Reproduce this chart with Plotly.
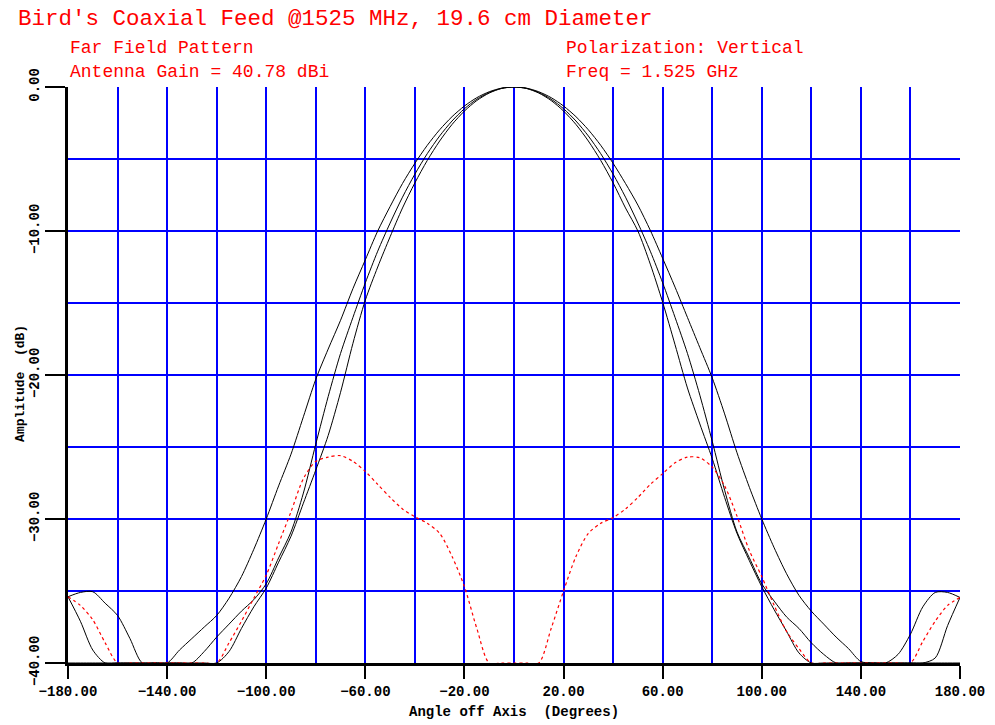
import plotly.graph_objects as go

# Sample angles (degrees off axis)
angles = [-180, -175, -170, -165, -160, -155, -150, -145, -140, -135, -130, -125,
          -120, -115, -110, -105, -100, -95, -90, -85, -80, -75, -70, -65,
          -60, -55, -50, -45, -40, -35, -30, -25, -20, -15, -10, -5,
          0, 5, 10, 15, 20, 25, 30, 35, 40, 45, 50, 55,
          60, 65, 70, 75, 80, 85, 90, 95, 100, 105, 110, 115,
          120, 125, 130, 135, 140, 145, 150, 155, 160, 165, 170, 175, 180]

# Co-polar pattern, widest beam (dB)
copol_a = [-35.4, -35.1, -35.05, -35.85, -36.7, -38.3, -40, -40, -40, -39.1, -38.3, -37.5,
           -36.7, -35.5, -34.0, -32.1, -30.0, -27.7, -25.5, -22.9, -20.3, -18.2, -16.2, -14.0,
           -12.0, -10.0, -8.3, -6.7, -5.3, -4.05, -2.97, -2.06, -1.32, -0.74, -0.33, -0.08,
           0.0, -0.08, -0.33, -0.74, -1.32, -2.06, -2.97, -4.05, -5.3, -6.7, -8.2, -9.95,
           -11.9, -13.9, -16.0, -18.1, -20.2, -22.7, -25.4, -27.8, -30.0, -32.0, -33.8, -35.3,
           -36.4, -37.3, -38.2, -39.0, -39.9, -40, -40, -39.4, -38.0, -36.1, -35.1, -35.1, -35.45]

# Co-polar pattern, middle beam (dB)
copol_b = [-35.4, -37.1, -39.1, -40, -40, -40, -40, -40, -40, -40, -40, -39.2,
           -38.2, -37.3, -36.4, -35.6, -34.5, -32.7, -30.9, -28.2, -24.8, -21.5, -18.5, -16.0,
           -13.6, -11.4, -9.45, -7.65, -6.05, -4.63, -3.40, -2.36, -1.51, -0.85, -0.38, -0.09,
           0.0, -0.09, -0.38, -0.85, -1.51, -2.36, -3.40, -4.63, -6.05, -7.65, -9.45, -11.4,
           -13.6, -16.0, -18.5, -21.4, -24.6, -28.0, -30.9, -32.7, -34.5, -35.7, -36.8, -37.6,
           -38.6, -39.4, -40, -40, -40, -40, -40, -40, -40, -40, -39.65, -37.4, -35.45]

# Co-polar pattern, narrowest beam (dB)
copol_c = [-40, -40, -40, -40, -40, -40, -40, -40, -40, -40, -40, -40,
           -40, -39.2, -37.6, -36.1, -34.8, -33.0, -31.2, -28.9, -26.6, -24.2, -21.2, -17.8,
           -14.8, -12.5, -10.4, -8.4, -6.66, -5.1, -3.75, -2.6, -1.67, -0.94, -0.42, -0.1,
           0.0, -0.1, -0.42, -0.94, -1.67, -2.6, -3.75, -5.1, -6.66, -8.4, -10.0, -12.3,
           -14.95, -17.9, -20.9, -23.4, -25.8, -28.5, -31.0, -32.9, -34.7, -36.3, -37.8, -39.3,
           -40, -40, -40, -40, -40, -40, -40, -40, -40, -40, -40, -40, -40]

# Cross-polar pattern (dB)
xpol = [-35.4, -36.0, -37.0, -38.6, -40, -40, -40, -40, -40, -40, -40, -40,
        -40, -38.6, -37.1, -35.5, -33.9, -31.7, -29.5, -27.2, -26.0, -25.7, -25.6, -26.0,
        -26.7, -27.6, -28.5, -29.3, -29.85, -30.3, -31.0, -32.6, -34.7, -37.6, -40, -40,
        -40, -40, -40, -37.6, -35.0, -32.6, -31.0, -30.3, -29.9, -29.3, -28.5, -27.6,
        -26.85, -26.1, -25.7, -25.75, -26.4, -27.7, -29.8, -32.2, -34.0, -36.0, -37.8, -39.0,
        -40, -40, -40, -40, -40, -40, -40, -40, -40, -38.5, -37.1, -36.0, -35.45]

title_text = "Bird's Coaxial Feed @1525 MHz, 19.6 cm Diameter"
info_left = ["Far Field Pattern", "Antenna Gain = 40.78 dBi"]
info_right = ["Polarization: Vertical", "Freq = 1.525 GHz"]
x_title = "Angle off Axis  (Degrees)"
y_title = "Amplitude  (dB)"

RED = "#FF0000"
BLUE = "#0000FF"
MONO = "Liberation Mono, Courier New, monospace"

fig = go.Figure()
for series in (copol_a, copol_b, copol_c):
    fig.add_trace(go.Scatter(x=angles, y=series, mode="lines",
                             line=dict(color="#000000", width=1, shape="spline", smoothing=0.8),
                             hoverinfo="skip"))
fig.add_trace(go.Scatter(x=angles, y=xpol, mode="lines",
                         line=dict(color=RED, width=1.2, dash="dot", shape="spline", smoothing=0.8),
                         hoverinfo="skip"))

annos = []
for i, t in enumerate(info_left):
    annos.append(dict(text=t, x=0.0, y=1.0677 - i * 0.0417, xref="paper", yref="paper",
                      xanchor="left", yanchor="middle", showarrow=False,
                      font=dict(family=MONO, size=18, color=RED)))
for i, t in enumerate(info_right):
    annos.append(dict(text=t, x=0.556, y=1.0677 - i * 0.0417, xref="paper", yref="paper",
                      xanchor="left", yanchor="middle", showarrow=False,
                      font=dict(family=MONO, size=18, color=RED)))
annos.append(dict(text=x_title, x=0.5, y=-0.085, xref="paper", yref="paper",
                  xanchor="center", yanchor="middle", showarrow=False,
                  font=dict(family=MONO, size=14, color="black", weight="bold")))
annos.append(dict(text=y_title, x=-0.054, y=0.486, xref="paper", yref="paper", textangle=-90,
                  xanchor="center", yanchor="middle", showarrow=False,
                  font=dict(family=MONO, size=13, color="black", weight="bold")))

fig.update_layout(
    width=995, height=725, autosize=False,
    margin=dict(l=68, r=35, t=87, b=62, pad=0),
    paper_bgcolor="white", plot_bgcolor="white",
    showlegend=False,
    title=dict(text=title_text, x=18 / 995, y=1 - 17 / 725, xref="container", yref="container",
               xanchor="left", yanchor="middle",
               font=dict(family=MONO, size=22.5, color=RED)),
    annotations=annos,
    xaxis=dict(range=[-180, 180], tick0=-180, dtick=40, tickformat=".2f", automargin=False,
               ticks="outside", ticklen=13, tickwidth=2, tickcolor="black",
               showline=True, linecolor="black", linewidth=3,
               showgrid=True, gridcolor=BLUE, gridwidth=2, zeroline=False,
               minor=dict(tick0=-180, dtick=20, showgrid=True, gridcolor=BLUE, gridwidth=2, ticks=""),
               tickfont=dict(family=MONO, size=14, color="black", weight="bold"),
               layer="below traces"),
    yaxis=dict(range=[-40, 0], dtick=10, tick0=0, tickformat=".2f", tickangle=-90, automargin=False,
               ticks="outside", ticklen=20, tickwidth=2, tickcolor="black",
               showline=True, linecolor="black", linewidth=3,
               showgrid=True, gridcolor=BLUE, gridwidth=2, zeroline=False,
               minor=dict(tick0=0, dtick=5, showgrid=True, gridcolor=BLUE, gridwidth=2, ticks=""),
               tickfont=dict(family=MONO, size=14, color="black", weight="bold"),
               layer="below traces"),
)

fig.write_html("out.html", config={"displayModeBar": False},
               post_script="document.body.style.margin='0';document.body.style.overflow='hidden';")
